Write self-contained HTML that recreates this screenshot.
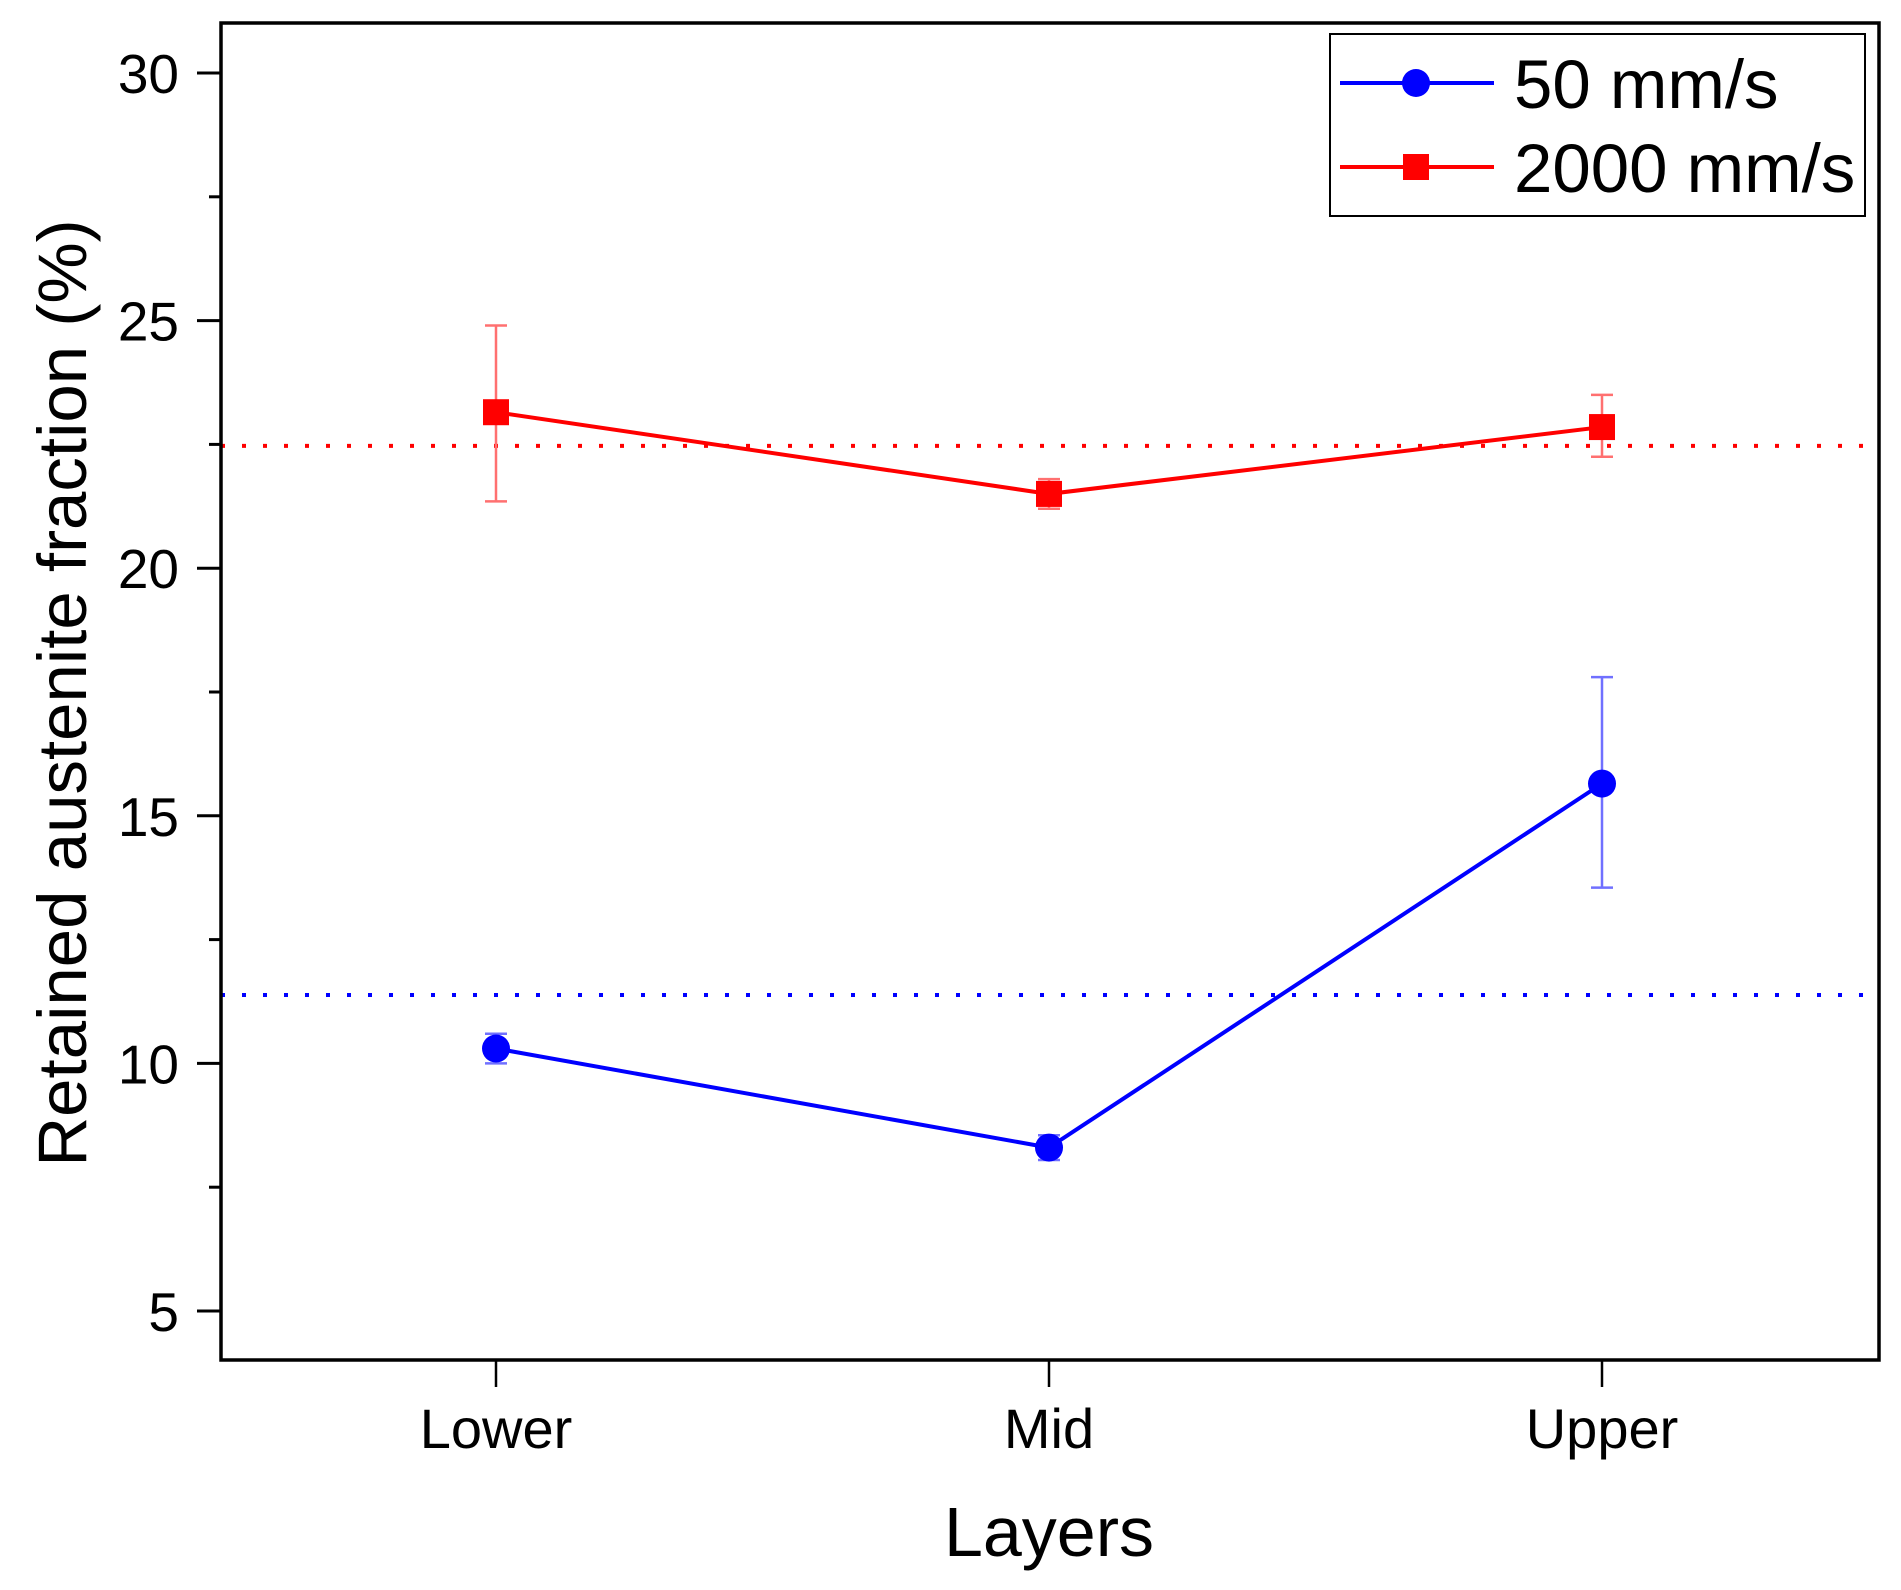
<!DOCTYPE html>
<html><head><meta charset="utf-8"><style>
body{margin:0;background:#fff}
svg{display:block;font-family:"Liberation Sans",sans-serif}
</style></head><body>
<svg id="chart" width="1901" height="1590" viewBox="0 0 1901 1590">
<g id="plot"></g>
</svg>
<script>
const categories=["Lower","Mid","Upper"];
const blueVals=[10.3,8.3,15.65];
const blueHi=[10.6,8.55,17.8];
const blueLo=[10.0,8.05,13.55];
const redVals=[23.15,21.5,22.85];
const redHi=[24.9,21.8,23.5];
const redLo=[21.35,21.2,22.25];
const blueMean=[11.38];
const redMean=[22.47];
const yTicks=[5,10,15,20,25,30];
const yMinor=[7.5,12.5,17.5,22.5,27.5];
const seriesNames=["50 mm/s","2000 mm/s"];

const L=221,R=1879,T=23,B=1360;
const xPos=[496,1049,1602];
function X(i){return xPos[0]+i*(xPos[2]-xPos[0])/(categories.length-1);}
function Y(v){return 1311-(v-5)*(1311-73)/25;}
const NS="http://www.w3.org/2000/svg";
const g=document.getElementById('plot');
function el(t,a,txt){const e=document.createElementNS(NS,t);for(const k in a)e.setAttribute(k,a[k]);if(txt!=null)e.textContent=txt;g.appendChild(e);return e;}

let e;
e=el('line',{x1:L,x2:R,y1:Y(redMean[0]),y2:Y(redMean[0]),stroke:'#ff0000','stroke-width':4,'stroke-dasharray':'4 17'});


e=el('line',{x1:L,x2:R,y1:Y(blueMean[0]),y2:Y(blueMean[0]),stroke:'#0000ff','stroke-width':4,'stroke-dasharray':'4 17'});



function series(vals,hi,lo,color,errColor,shape,name){
  let pts=vals.map((v,i)=>X(i)+','+Y(v)).join(' ');
  let p=el('polyline',{points:pts,fill:'none',stroke:color,'stroke-width':4});
  
  
  vals.forEach((v,i)=>{
    const x=X(i);
    let eb=el('path',{d:`M${x},${Y(hi[i])}V${Y(lo[i])}M${x-11},${Y(hi[i])}H${x+11}M${x-11},${Y(lo[i])}H${x+11}`,stroke:errColor,'stroke-width':2.5,fill:'none'});
    
    
    let m;
    if(shape==='c') m=el('circle',{cx:x,cy:Y(v),r:14,fill:color});
    else m=el('rect',{x:x-13,y:Y(v)-13,width:26,height:26,fill:color});
    
    
  });
}
series(redVals,redHi,redLo,'#ff0000','#ff7070','s','red-series');
series(blueVals,blueHi,blueLo,'#0000ff','#7070ff','c','blue-series');

e=el('rect',{x:L,y:T,width:R-L,height:B-T,fill:'none',stroke:'#000','stroke-width':3.5});



yTicks.forEach(v=>{
  let t=el('line',{x1:L-24,x2:L,y1:Y(v),y2:Y(v),stroke:'#000','stroke-width':3});
  
  
  let l=el('text',{x:L-42,y:Y(v)+20,'text-anchor':'end','font-size':55},String(v));
  
  
});
yMinor.forEach(v=>{
  let t=el('line',{x1:L-12,x2:L,y1:Y(v),y2:Y(v),stroke:'#000','stroke-width':3});
  
  
});
categories.forEach((c,i)=>{
  let t=el('line',{x1:X(i),x2:X(i),y1:B,y2:B+27,stroke:'#000','stroke-width':2.5});
  
  
  let l=el('text',{x:X(i),y:1448,'text-anchor':'middle','font-size':56},c);
  
  
});
e=el('text',{x:1049,y:1556,'text-anchor':'middle','font-size':70},'Layers');


e=el('text',{x:0,y:0,'text-anchor':'middle','font-size':69,transform:'translate(86,693) rotate(-90)'},'Retained austenite fraction (%)');



e=el('rect',{x:1330,y:34,width:535,height:182,fill:'#fff',stroke:'#000','stroke-width':2});


const legY=[83,167],legC=['#0000ff','#ff0000'];
seriesNames.forEach((n,i)=>{
  let ln=el('line',{x1:1340,x2:1494,y1:legY[i],y2:legY[i],stroke:legC[i],'stroke-width':4});
  
  
  let m=i===0?el('circle',{cx:1416,cy:legY[i],r:14,fill:legC[i]}):el('rect',{x:1403,y:legY[i]-13,width:26,height:26,fill:legC[i]});
  
  
  let t=el('text',{x:1514,y:legY[i]+25,'font-size':69},n);
  
  
});
</script>
</body></html>
